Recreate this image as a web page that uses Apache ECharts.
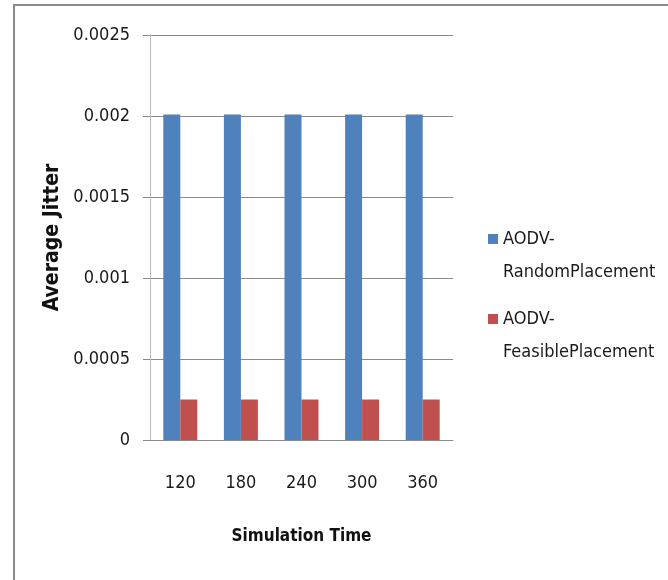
<!DOCTYPE html>
<html>
<head>
<meta charset="utf-8">
<script src="https://cdn.jsdelivr.net/npm/echarts@6/dist/echarts.min.js"></script>
<style>
  html, body { margin: 0; padding: 0; background: #fff; }
  #chart { width: 668px; height: 580px; }
</style>
</head>
<body>
<div id="chart"></div>
<script>
  const categories = ["120", "180", "240", "300", "360"];
  const randomPlacement = [0.00201, 0.00201, 0.00201, 0.00201, 0.00201];
  const feasiblePlacement = [0.00025, 0.00025, 0.00025, 0.00025, 0.00025];
  const seriesNames = ["AODV-RandomPlacement", "AODV-FeasiblePlacement"];
  const yTickLabels = ["0", "0.0005", "0.001", "0.0015", "0.002", "0.0025"];

  const font = "'DejaVu Sans Condensed', 'Liberation Sans', sans-serif";
  const chart = echarts.init(document.getElementById("chart"));

  // icon sits on the first line: blank line above balances the block
  const legendFormatter = (name) => {
    const parts = name.split("-");
    return "{s| }\n{t|" + parts[0] + "-}\n{t|" + parts[1] + "}";
  };
  const legendText = {
    fontFamily: font,
    fontSize: 18,
    color: "#1a1a1a",
    rich: {
      s: { fontFamily: font, fontSize: 18, lineHeight: 33 },
      t: { fontFamily: font, fontSize: 18, lineHeight: 33, color: "#1a1a1a" },
    },
  };

  chart.setOption({
    animation: false,
    backgroundColor: "#fff",
    graphic: [
      {
        type: "rect",
        shape: { x: 14, y: 5, width: 720, height: 640 },
        style: { fill: null, stroke: "#8a8a8a", lineWidth: 2 },
        silent: true,
      },
    ],
    grid: { left: 150, right: 215, top: 35, bottom: 140 },
    legend: [
      {
        data: [seriesNames[0]],
        left: 483,
        top: 192,
        itemWidth: 10,
        itemHeight: 10,
        icon: "rect",
        formatter: legendFormatter,
        textStyle: legendText,
      },
      {
        data: [seriesNames[1]],
        left: 483,
        top: 272,
        itemWidth: 10,
        itemHeight: 10,
        icon: "rect",
        formatter: legendFormatter,
        textStyle: legendText,
      },
    ],
    xAxis: {
      type: "category",
      data: categories,
      name: "Simulation Time",
      nameLocation: "middle",
      nameGap: 88,
      nameTextStyle: { fontFamily: font, fontSize: 17, fontWeight: "bold", color: "#111" },
      axisLine: { lineStyle: { color: "#8a8a8a", width: 1 } },
      axisTick: { show: false },
      axisLabel: { fontFamily: font, fontSize: 18, color: "#1a1a1a", margin: 34 },
    },
    yAxis: {
      type: "value",
      min: 0,
      max: 0.0025,
      interval: 0.0005,
      name: "Average Jitter",
      nameLocation: "middle",
      nameGap: 87,
      nameTextStyle: { fontFamily: font, fontSize: 21, fontWeight: "bold", color: "#111" },
      axisLine: { show: true, lineStyle: { color: "#b8b8b8", width: 1 } },
      axisTick: { show: true, length: 7, lineStyle: { color: "#8a8a8a" } },
      splitLine: { lineStyle: { color: "#8a8a8a", width: 1 } },
      axisLabel: {
        fontFamily: font,
        fontSize: 18,
        color: "#1a1a1a",
        margin: 20,
        formatter: (v) => yTickLabels[Math.round(v / 0.0005)],
      },
    },
    series: [
      {
        name: seriesNames[0],
        type: "bar",
        barWidth: 17,
        barGap: "0%",
        data: randomPlacement,
        itemStyle: { color: "#4F81BD" },
      },
      {
        name: seriesNames[1],
        type: "bar",
        barWidth: 17,
        barGap: "0%",
        data: feasiblePlacement,
        itemStyle: { color: "#C0504D" },
      },
    ],
  });
</script>
</body>
</html>
